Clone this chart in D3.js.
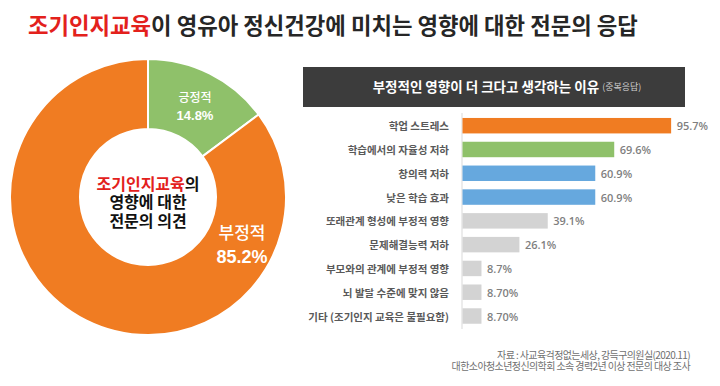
<!DOCTYPE html>
<html>
<head>
<meta charset="utf-8">
<script src="https://cdn.jsdelivr.net/npm/d3@7"></script>
<style>
  body { margin: 0; background: #fff; }
  svg { display: block; font-family: "Noto Sans CJK KR", "Noto Sans", sans-serif; }
</style>
</head>
<body>
<div id="chart"></div>
<script>
// ---------------------------DATA---------------------------------
const pieLabels = ["긍정적", "부정적"];
const pieValues = [14.8, 85.2];

const reasons = [
  "학업 스트레스",
  "학습에서의 자율성 저하",
  "창의력 저하",
  "낮은 학습 효과",
  "또래관계 형성에 부정적 영향",
  "문제해결능력 저하",
  "부모와의 관계에 부정적 영향",
  "뇌 발달 수준에 맞지 않음",
  "기타 (조기인지 교육은 불필요함)"
];
const reasonValues = [95.7, 69.6, 60.9, 60.9, 39.1, 26.1, 8.7, 8.7, 8.7];
const reasonValueLabels = ["95.7%", "69.6%", "60.9%", "60.9%", "39.1%", "26.1%", "8.7%", "8.70%", "8.70%"];

// ---------------------------STYLE---------------------------------
const pieColors = ["#8fc16a", "#f07c22"];
const barColors = ["#f07c22", "#8fc16a", "#66a8de", "#66a8de", "#d3d3d3", "#d3d3d3", "#d3d3d3", "#d3d3d3", "#d3d3d3"];

const W = 720, H = 386;
const svg = d3.select("#chart").append("svg")
  .attr("width", W)
  .attr("height", H);

// ---------------------------TITLE---------------------------------
const title = svg.append("text")
  .attr("x", 28)
  .attr("y", 24)
  .attr("dominant-baseline", "central")
  .style("font-size", "22.3px")
  .style("font-weight", 700);
title.append("tspan").attr("fill", "#e3211c").text("조기인지교육");
title.append("tspan").attr("fill", "#262626").text("이 영유아 정신건강에 미치는 영향에 대한 전문의 응답");

// ---------------------------DONUT---------------------------------
const cx = 148, cy = 197, outerR = 138, innerR = 68;

const pie = d3.pie().sort(null).value(d => d)(pieValues);
const arc = d3.arc().innerRadius(innerR).outerRadius(outerR);

const donut = svg.append("g").attr("transform", `translate(${cx},${cy})`);
donut.selectAll("path")
  .data(pie)
  .enter().append("path")
    .attr("d", arc)
    .attr("fill", (d, i) => pieColors[i])
    .attr("stroke", "#fff")
    .attr("stroke-width", 2);

// slice labels
const labelPos = [
  { x: 195 - cx, y: 96 - cy, nameSize: 12, valSize: 13, gap: 19 },
  { x: 242 - cx, y: 231 - cy, nameSize: 17, valSize: 18, gap: 26 }
];
pie.forEach((d, i) => {
  const p = labelPos[i];
  donut.append("text")
    .attr("x", p.x).attr("y", p.y)
    .attr("text-anchor", "middle")
    .attr("dominant-baseline", "central")
    .attr("fill", "#fff")
    .style("font-size", p.nameSize + "px")
    .style("font-weight", 500)
    .text(pieLabels[i]);
  donut.append("text")
    .attr("x", p.x).attr("y", p.y + p.gap)
    .attr("text-anchor", "middle")
    .attr("dominant-baseline", "central")
    .attr("fill", "#fff")
    .style("font-family", "Arial, 'Liberation Sans', sans-serif")
    .style("font-size", p.valSize + "px")
    .style("font-weight", 700)
    .text(d3.format(".1f")(pieValues[i]) + "%");
});

// center text, one text element with tspans
const centerLines = [
  [["조기인지교육", "#e3211c"], ["의", "#111"]],
  [["영향에 대한", "#111"]],
  [["전문의 의견", "#111"]]
];
const centerText = donut.append("text")
  .attr("text-anchor", "middle")
  .style("font-size", "16px")
  .style("font-weight", 700);
centerLines.forEach((parts, i) => {
  parts.forEach((p, j) => {
    const ts = centerText.append("tspan").attr("fill", p[1]).text(p[0]);
    if (j === 0) ts.attr("x", 0).attr("y", -7.5 + i * 18.5);
  });
});

// ---------------------------BAR HEADER---------------------------------
svg.append("rect")
  .attr("x", 303).attr("y", 67)
  .attr("width", 382).attr("height", 40)
  .attr("fill", "#3c3c3c");
const head = svg.append("text")
  .attr("x", 507).attr("y", 86)
  .attr("text-anchor", "middle")
  .attr("dominant-baseline", "central");
head.append("tspan")
  .attr("fill", "#fff")
  .style("font-size", "13.5px")
  .style("font-weight", 700)
  .text("부정적인 영향이 더 크다고 생각하는 이유 ");
head.append("tspan")
  .attr("fill", "#cfcfcf")
  .style("font-size", "9px")
  .text("(중복응답)");

// ---------------------------BARS---------------------------------
const x = d3.scaleLinear().domain([0, 100]).range([462, 680]);
const y = d3.scaleBand()
  .domain(reasons)
  .range([113.8, 327.9])
  .paddingInner(0.35)
  .paddingOuter(0.175);

svg.append("line")
  .attr("x1", x(0)).attr("x2", x(0))
  .attr("y1", 113).attr("y2", 329)
  .attr("stroke", "#d9d9d9")
  .attr("stroke-width", 1);

const rows = svg.selectAll("g.row")
  .data(reasons)
  .enter().append("g")
    .attr("class", "row");

rows.append("rect")
  .attr("x", x(0) + 0.5)
  .attr("y", d => y(d))
  .attr("width", (d, i) => x(reasonValues[i]) - x(0))
  .attr("height", y.bandwidth())
  .attr("fill", (d, i) => barColors[i]);

rows.append("text")
  .attr("x", 449)
  .attr("y", d => y(d) + y.bandwidth() / 2)
  .attr("text-anchor", "end")
  .attr("dominant-baseline", "central")
  .attr("fill", "#595959")
  .style("font-size", "10.5px")
  .style("font-weight", 700)
  .text(d => d);

rows.append("text")
  .attr("x", (d, i) => x(reasonValues[i]) + 6)
  .attr("y", d => y(d) + y.bandwidth() / 2)
  .attr("dominant-baseline", "central")
  .attr("fill", "#7f7f7f")
  .style("font-family", "'Open Sans', sans-serif")
  .style("font-size", "11px")
  .style("font-weight", 600)
  .text((d, i) => reasonValueLabels[i]);

// ---------------------------SOURCE---------------------------------
const source = [
  "자료 : 사교육걱정없는세상, 강득구의원실(2020.11)",
  "대한소아청소년정신의학회 소속 경력2년 이상 전문의 대상 조사"
];
const src = svg.append("text")
  .attr("text-anchor", "end")
  .attr("fill", "#6f6f6f")
  .style("font-size", "10px")
  .style("letter-spacing", "-0.6px");
source.forEach((d, i) => {
  src.append("tspan")
    .attr("x", 690)
    .attr("y", 359 + i * 10.5)
    .text(d);
});
</script>
</body>
</html>
